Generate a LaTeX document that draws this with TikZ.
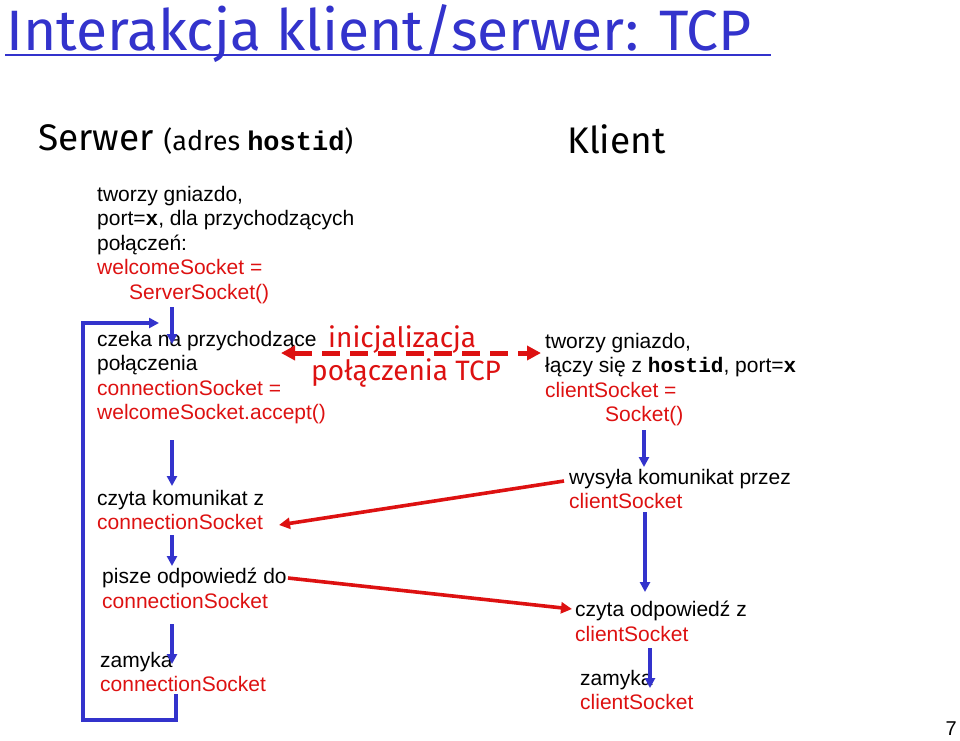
\documentclass[tikz,border=0pt]{standalone}
\usepackage{fontspec}
\setmainfont{Liberation Sans}
\newfontfamily\comic{Fira Sans}
\newfontfamily\cour{Liberation Mono}
\usetikzlibrary{arrows.meta}
\definecolor{tblue}{RGB}{51,51,204}
\definecolor{tred}{RGB}{221,17,17}
\definecolor{ablue}{RGB}{51,51,204}
\begin{document}
\begin{tikzpicture}[x=1pt,y=-1pt,
  txt/.style={anchor=north west,align=left,inner sep=0pt,font=\fontsize{21}{24.5}\selectfont},
  flow/.style={draw=ablue,line width=3.2pt,-{Triangle[length=10pt,width=10pt]}},
  msg/.style={draw=tred,line width=3.6pt,-{Triangle[length=11pt,width=11pt]}}]
\useasboundingbox (0,0) rectangle (960,740);
\node[anchor=base west,inner sep=0pt,text=tblue,font=\comic\fontsize{57}{60}\selectfont] (title) at (6,50) {Interakcja klient/serwer: TCP};
\draw[tblue,line width=1.5pt] (5,55) -- (771,55);
\node[anchor=base west,inner sep=0pt,font=\comic\fontsize{37}{40}\selectfont] (serwer) at (38,150) {Serwer \fontsize{27}{30}\selectfont(adres {\cour\bfseries hostid})};
\node[anchor=base west,inner sep=0pt,font=\comic\fontsize{37}{40}\selectfont] (klient) at (567,153) {Klient};

\node[txt] (s1) at (97,186) {tworzy gniazdo,\\port={\cour\bfseries x}, dla przychodzących\\połączeń:\\\textcolor{tred}{welcomeSocket =}\\\textcolor{tred}{\hspace*{32pt}ServerSocket()}};
\node[txt] (s2) at (97,331) {czeka na przychodzące\\połączenia\\\textcolor{tred}{connectionSocket =}\\\textcolor{tred}{welcomeSocket.accept()}};
\node[txt] (s3) at (97,490) {czyta komunikat z\\\textcolor{tred}{connectionSocket}};
\node[txt] (s4) at (102,568) {pisze odpowiedź do\\\textcolor{tred}{connectionSocket}};
\node[txt] (s5) at (100,652) {zamyka\\\textcolor{tred}{connectionSocket}};

\node[txt] (c1) at (545,333) {tworzy gniazdo,\\łączy się z {\cour\bfseries hostid}, port={\cour\bfseries x}\\\textcolor{tred}{clientSocket =}\\\textcolor{tred}{\hspace*{60pt}Socket()}};
\node[txt] (c2) at (569,469) {wysyła komunikat przez\\\textcolor{tred}{clientSocket}};
\node[txt] (c3) at (575,601) {czyta odpowiedź z\\\textcolor{tred}{clientSocket}};
\node[txt] (c4) at (580,670) {zamyka\\\textcolor{tred}{clientSocket}};

\node[anchor=base west,inner sep=0pt,text=tred,font=\comic\fontsize{28}{30}\selectfont] (init1) at (328,347) {inicjalizacja};
\node[anchor=base west,inner sep=0pt,text=tred,font=\comic\fontsize{28}{30}\selectfont] (init2) at (311,380) {połączenia TCP};

\node[anchor=base east,inner sep=0pt,font=\fontsize{20}{22}\selectfont\rmfamily] (pg) at (957,735) {7};

\coordinate (a1) at (172,307); \coordinate (a1e) at (172,344);
\coordinate (a2) at (172,440); \coordinate (a2e) at (172,486);
\coordinate (a3) at (172,535); \coordinate (a3e) at (172,566);
\coordinate (a4) at (172,624); \coordinate (a4e) at (172,664);
\coordinate (l0) at (176,694); \coordinate (l1) at (176,720); \coordinate (l2) at (83,720);
\coordinate (l3) at (83,323); \coordinate (l4) at (159,323);
\coordinate (b1) at (644,430); \coordinate (b1e) at (644,467);
\coordinate (b2) at (645,512); \coordinate (b2e) at (645,592);
\coordinate (b3) at (650,648); \coordinate (b3e) at (650,688);
\coordinate (d1) at (281,353); \coordinate (d2) at (541,353);
\coordinate (m1) at (564,481); \coordinate (m1e) at (279,525);
\coordinate (m2) at (288,578); \coordinate (m2e) at (572,609);

\draw[flow] (a1) -- (a1e);
\draw[flow] (a2) -- (a2e);
\draw[flow] (a3) -- (a3e);
\draw[flow] (a4) -- (a4e);
\draw[flow] (l0) -- (l1) -- (l2) -- (l3) -- (l4);
\draw[flow] (b1) -- (b1e);
\draw[flow] (b2) -- (b2e);
\draw[flow] (b3) -- (b3e);
\draw[draw=tred,line width=5pt,dash pattern=on 18pt off 10pt,{Triangle[length=14pt,width=14pt]}-{Triangle[length=14pt,width=14pt]}] (d1) -- (d2);
\draw[msg] (m1) -- (m1e);
\draw[msg] (m2) -- (m2e);
\end{tikzpicture}
\end{document}
